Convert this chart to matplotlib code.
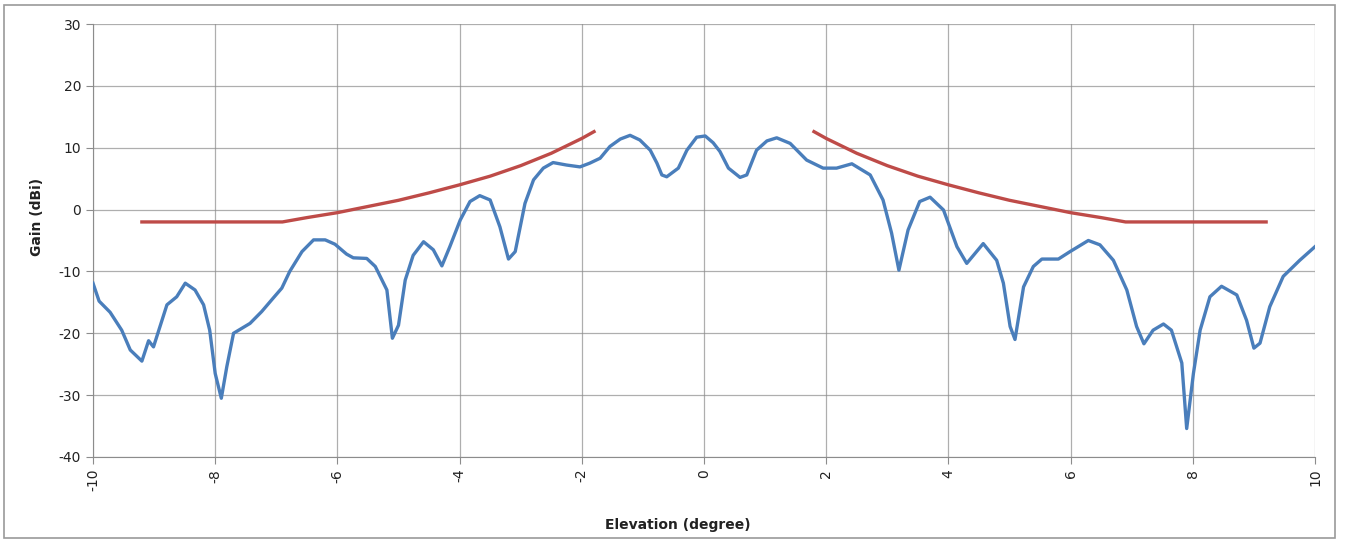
import numpy as np
import matplotlib
matplotlib.use("Agg")
import matplotlib.pyplot as plt
from matplotlib.patches import Rectangle

plt.rcParams["axes.unicode_minus"] = False

# measured antenna pattern (elevation cut)
elev = [-10.0, -9.9, -9.72, -9.53, -9.39, -9.2, -9.09, -9.01, -8.79, -8.63,
        -8.49, -8.33, -8.19, -8.09, -8.0, -7.9, -7.81, -7.7, -7.43, -7.24,
        -7.05, -6.91, -6.78, -6.58, -6.39, -6.2, -6.04, -5.85, -5.74, -5.52,
        -5.38, -5.19, -5.1, -5.0, -4.89, -4.76, -4.59, -4.43, -4.29, -4.16,
        -3.99, -3.83, -3.67, -3.5, -3.34, -3.2, -3.09, -2.93, -2.79, -2.63,
        -2.47, -2.25, -2.03, -1.87, -1.7, -1.54, -1.37, -1.21, -1.05, -0.88,
        -0.77, -0.69, -0.61, -0.42, -0.28, -0.12, 0.02, 0.15, 0.26, 0.4,
        0.59, 0.7, 0.86, 1.03, 1.19, 1.41, 1.68, 1.95, 2.17, 2.42,
        2.72, 2.93, 3.07, 3.19, 3.34, 3.53, 3.7, 3.92, 4.14, 4.3,
        4.57, 4.79, 4.9, 5.01, 5.09, 5.23, 5.39, 5.53, 5.8, 5.99,
        6.29, 6.48, 6.7, 6.92, 7.08, 7.2, 7.35, 7.52, 7.65, 7.82,
        7.9, 8.01, 8.12, 8.28, 8.47, 8.72, 8.88, 9.0, 9.1, 9.26,
        9.48, 9.75, 10.0]
gain = [-11.9, -14.8, -16.6, -19.5, -22.7, -24.5, -21.2, -22.2, -15.4, -14.1,
        -11.9, -13.0, -15.4, -19.5, -26.5, -30.5, -25.4, -20.0, -18.4, -16.5,
        -14.3, -12.7, -10.0, -6.8, -4.9, -4.9, -5.6, -7.2, -7.8, -7.9,
        -9.2, -13.0, -20.8, -18.7, -11.4, -7.4, -5.2, -6.5, -9.1, -6.0,
        -1.7, 1.3, 2.25, 1.55, -2.8, -8.0, -6.8, 1.0, 4.8, 6.7,
        7.6, 7.2, 6.9, 7.5, 8.3, 10.2, 11.4, 12.0, 11.25, 9.6,
        7.5, 5.6, 5.3, 6.7, 9.6, 11.7, 11.9, 10.8, 9.4, 6.7,
        5.2, 5.6, 9.6, 11.1, 11.6, 10.7, 8.0, 6.7, 6.7, 7.4,
        5.6, 1.55, -3.8, -9.8, -3.3, 1.3, 2.0, -0.07, -6.0, -8.7,
        -5.5, -8.2, -11.9, -18.9, -21.0, -12.5, -9.2, -8.0, -8.0, -6.8,
        -5.0, -5.7, -8.2, -13.0, -18.9, -21.7, -19.5, -18.5, -19.5, -24.8,
        -35.4, -26.5, -19.5, -14.1, -12.4, -13.8, -17.9, -22.4, -21.6, -15.7,
        -10.8, -8.2, -6.0]

# envelope mask, one side (mirrored for the other)
mask_theta = [1.8, 2.0, 2.5, 3.0, 3.5, 4.0, 4.5, 5.0, 5.5, 6.0, 6.5, 6.9, 9.2]
mask_gain = [12.6, 11.5, 9.1, 7.1, 5.4, 4.0, 2.7, 1.5, 0.5, -0.5, -1.3, -2.0, -2.0]

xticks = list(range(-10, 11, 2))
yticks = list(range(-40, 31, 10))

BLUE = "#4A7EBB"
RED = "#BE4B48"
GRID = "#8C8C8C"

fig = plt.figure(figsize=(13.46, 5.42), dpi=100)
ax = fig.add_axes([93 / 1346, 85 / 542, (1315 - 93) / 1346, (457 - 24) / 542])

mt = np.array(mask_theta)
ax.plot(-mt, mask_gain, color=RED, lw=2.4, zorder=3)
ax.plot(mt, mask_gain, color=RED, lw=2.4, zorder=3)
ax.plot(elev, gain, color=BLUE, lw=2.4, zorder=4)

ax.set_xlim(-10, 10)
ax.set_ylim(-40, 30)
ax.set_xticks(xticks)
ax.set_yticks(yticks)
ax.set_xticklabels([str(t) for t in xticks], rotation=90)
ax.grid(True, color=GRID, lw=0.9, alpha=0.7)
ax.set_axisbelow(True)
for s in ["top", "right"]:
    ax.spines[s].set_visible(False)
for s in ["left", "bottom"]:
    ax.spines[s].set_color(GRID)
ax.tick_params(axis="both", colors=GRID, length=5, labelcolor="#222222",
               labelsize=10)

fig.text(37 / 1346, 1 - 217 / 542, "Gain (dBi)", rotation=90, fontsize=10,
         fontweight="bold", ha="center", va="center", color="#222222")
fig.text(678 / 1346, 1 - 525 / 542, "Elevation (degree)", fontsize=10,
         fontweight="bold", ha="center", va="center", color="#222222")

fig.patches.append(Rectangle((4 / 1346, 4 / 542), 1331 / 1346, 533 / 542,
                             transform=fig.transFigure, fill=False,
                             edgecolor="#9A9A9A", lw=1.2))

fig.savefig("out.png", dpi=100)
